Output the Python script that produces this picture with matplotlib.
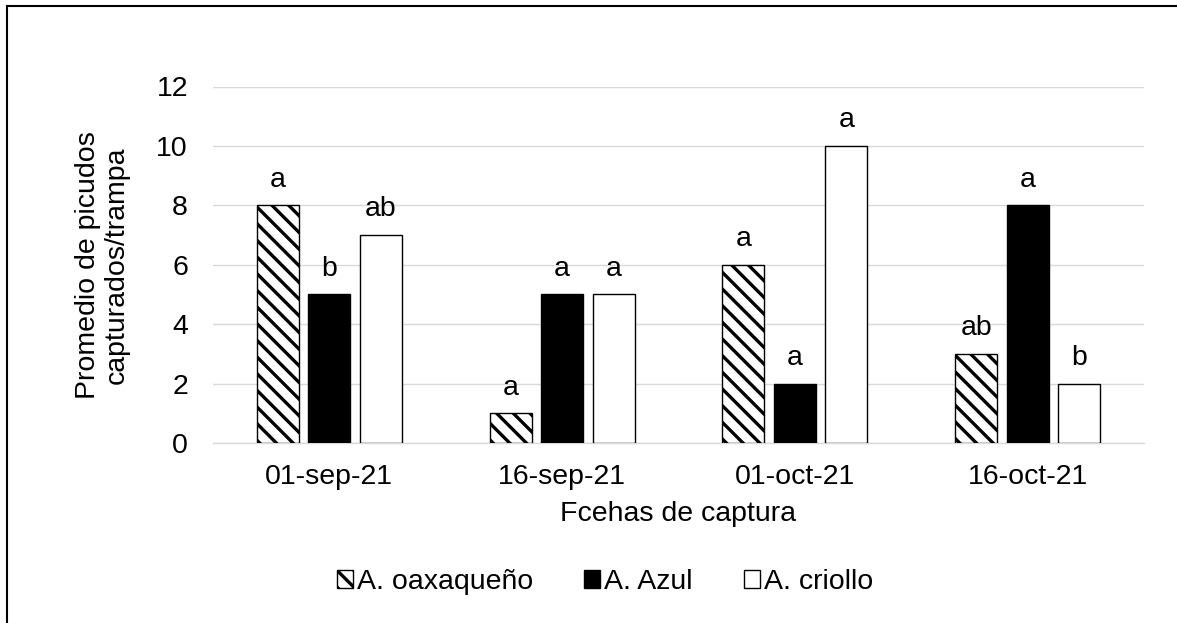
import numpy as np
import matplotlib
matplotlib.use("Agg")
import matplotlib.pyplot as plt
from matplotlib.patches import Patch, Rectangle

plt.rcParams['font.family'] = ['Liberation Sans', 'DejaVu Sans']
plt.rcParams['hatch.linewidth'] = 2.4

# Data
fechas = ["01-sep-21", "16-sep-21", "01-oct-21", "16-oct-21"]
series = ["A. oaxaqueño", "A. Azul", "A. criollo"]
oaxaqueno = [8, 1, 6, 3]
azul = [5, 5, 2, 8]
criollo = [7, 5, 10, 2]
letras_oaxaqueno = ["a", "a", "a", "ab"]
letras_azul = ["b", "a", "a", "a"]
letras_criollo = ["ab", "a", "a", "b"]

valores = [oaxaqueno, azul, criollo]
letras = [letras_oaxaqueno, letras_azul, letras_criollo]
colores = ["white", "black", "white"]
hatches = ["\\\\", None, None]

fs = 20.5
fig = plt.figure(figsize=(11.77, 6.23), dpi=100)
ax = fig.add_axes([213 / 1177, 1 - 443 / 623, 931 / 1177, (443 - 86.5) / 623])

x = np.arange(len(fechas))
ancho = 0.18
sep = 0.221
for i, (vals, col, h, lt) in enumerate(zip(valores, colores, hatches, letras)):
    pos = x + (i - 1) * sep
    bars = ax.bar(pos, vals, ancho, color=col, edgecolor="black", hatch=h,
                  linewidth=1.0, zorder=3)
    for b, t in zip(bars, lt):
        ax.annotate(t, (b.get_x() + b.get_width() / 2, b.get_height()),
                    xytext=(0, 13.5), textcoords="offset points",
                    ha="center", va="baseline", fontsize=fs)

ax.set_xlim(-0.5, 3.5)
ax.set_ylim(0, 12)
ax.set_yticks(range(0, 13, 2))
ax.set_xticks(x)
ax.set_xticklabels(fechas)
ax.tick_params(axis="both", length=0, labelsize=fs)
ax.tick_params(axis="y", pad=18)
ax.tick_params(axis="x", pad=15)
ax.grid(axis="y", color="#d9d9d9", linewidth=1.0, zorder=0)
for s in ["top", "right", "left"]:
    ax.spines[s].set_visible(False)
ax.spines["bottom"].set_color("#d9d9d9")
ax.spines["bottom"].set_linewidth(1.0)

ax.set_xlabel("Fcehas de captura", fontsize=fs, labelpad=8)
ax.set_ylabel("Promedio de picudos\ncapturados/trampa", fontsize=fs,
              linespacing=1.15)
ax.yaxis.set_label_coords((130 - 213) / 931, 0.5)

handles = [Patch(facecolor=c, edgecolor="black", hatch=h, linewidth=1.0)
           for c, h in zip(colores, hatches)]
fig.legend(handles, series, loc="center", bbox_to_anchor=(605 / 1177, 1 - 582 / 623),
           ncol=3, frameon=False, fontsize=fs, handlelength=0.55,
           handleheight=0.55, handletextpad=0.15, columnspacing=1.8)

fig.add_artist(Rectangle((7 / 1177, -0.1), 1.2, (617 / 623) + 0.1,
                         transform=fig.transFigure, fill=False,
                         edgecolor="black", linewidth=1.5))

fig.savefig("out.png", dpi=100)
